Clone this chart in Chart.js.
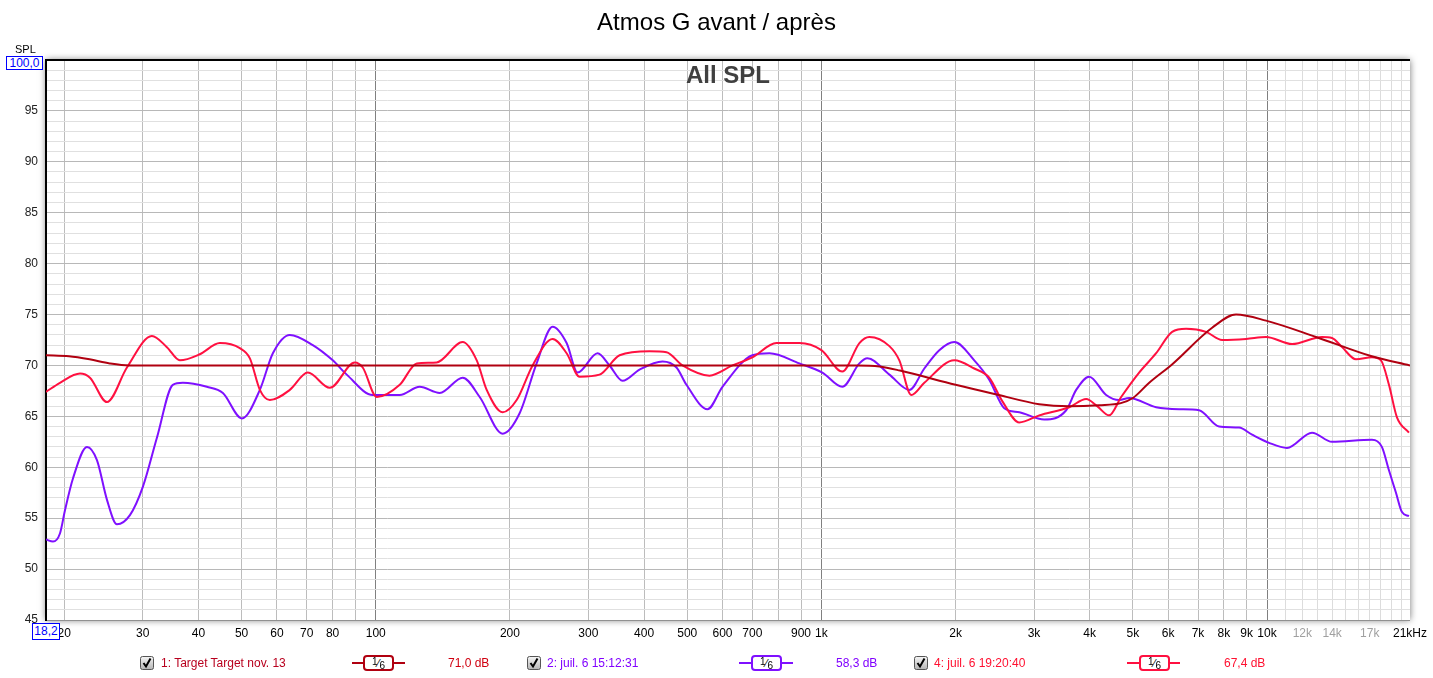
<!DOCTYPE html>
<html>
<head>
<meta charset="utf-8">
<script src="https://cdn.jsdelivr.net/npm/chart.js@4.4.1/dist/chart.umd.min.js"></script>
<style>
html,body{margin:0;padding:0;background:#fff;width:1433px;height:678px;overflow:hidden;font-family:"Liberation Sans",Arial,sans-serif;}
#wrap{position:relative;width:1433px;height:678px;}
#c{position:absolute;left:0;top:0;}
.abs{position:absolute;white-space:nowrap;}
.t12{font-size:12px;line-height:12px;}
.sym{position:absolute;height:16px;}
.sym .ln{position:absolute;left:0;right:0;top:7px;height:2px;}
.sym .bx{position:absolute;top:0;width:27px;height:12px;border:2px solid;border-radius:4px;background:#fff;font-size:11px;line-height:12px;text-align:center;color:#000;}
.frac .n{position:relative;top:-2px;font-size:10px;}
.frac .d{position:relative;top:2px;font-size:10px;}
</style>
</head>
<body>
<div id="wrap">
<canvas id="c" width="1433" height="678"></canvas>
<div class="abs" style="left:0;width:1433px;top:10px;text-align:center;font-size:24px;line-height:24px;color:#000;">Atmos G avant / après</div>
<div class="abs" style="left:0;width:1456px;top:63px;text-align:center;font-size:24px;line-height:24px;font-weight:bold;color:#404040;">All SPL</div>
<div class="abs" style="left:15px;top:44px;font-size:11px;line-height:11px;color:#000;">SPL</div>
<div class="abs t12" style="left:6px;top:56px;width:35px;height:12px;border:1px solid #0000ff;color:#0000ff;text-align:center;background:#fff;">100,0</div>
<div class="abs t12" style="left:32px;top:623px;width:26px;height:15px;line-height:15px;border:1px solid #0000ff;color:#0000ff;text-align:center;background:#fff;">18,2</div>

<!-- legend -->
<svg class="abs" style="left:140px;top:656px" width="14" height="14"><defs><linearGradient id="g1" x1="0" y1="0" x2="0" y2="1"><stop offset="0" stop-color="#f6f6f6"/><stop offset="1" stop-color="#b4b4b4"/></linearGradient></defs><rect x="0.5" y="0.5" width="13" height="13" rx="2" fill="url(#g1)" stroke="#555"/><path d="M3.5 7 L6 10.5 L10.5 2.5" stroke="#000" stroke-width="2" fill="none"/></svg>
<div class="abs t12" style="left:161px;top:657px;color:#b8001e;">1: Target Target nov. 13</div>
<div class="sym" style="left:352px;top:655px;width:53px;"><div class="ln" style="background:#b00010"></div><div class="bx" style="left:11px;border-color:#b00010"><span class="frac"><span class="n">1</span>⁄<span class="d">6</span></span></div></div>
<div class="abs t12" style="left:448px;top:657px;color:#d00010;">71,0 dB</div>

<svg class="abs" style="left:527px;top:656px" width="14" height="14"><defs><linearGradient id="g2" x1="0" y1="0" x2="0" y2="1"><stop offset="0" stop-color="#f6f6f6"/><stop offset="1" stop-color="#b4b4b4"/></linearGradient></defs><rect x="0.5" y="0.5" width="13" height="13" rx="2" fill="url(#g2)" stroke="#555"/><path d="M3.5 7 L6 10.5 L10.5 2.5" stroke="#000" stroke-width="2" fill="none"/></svg>
<div class="abs t12" style="left:547px;top:657px;color:#8000ff;">2: juil. 6 15:12:31</div>
<div class="sym" style="left:739px;top:655px;width:54px;"><div class="ln" style="background:#7f10ff"></div><div class="bx" style="left:12px;border-color:#7f10ff"><span class="frac"><span class="n">1</span>⁄<span class="d">6</span></span></div></div>
<div class="abs t12" style="left:836px;top:657px;color:#8000ff;">58,3 dB</div>

<svg class="abs" style="left:914px;top:656px" width="14" height="14"><defs><linearGradient id="g3" x1="0" y1="0" x2="0" y2="1"><stop offset="0" stop-color="#f6f6f6"/><stop offset="1" stop-color="#b4b4b4"/></linearGradient></defs><rect x="0.5" y="0.5" width="13" height="13" rx="2" fill="url(#g3)" stroke="#555"/><path d="M3.5 7 L6 10.5 L10.5 2.5" stroke="#000" stroke-width="2" fill="none"/></svg>
<div class="abs t12" style="left:934px;top:657px;color:#ff1030;">4: juil. 6 19:20:40</div>
<div class="sym" style="left:1127px;top:655px;width:53px;"><div class="ln" style="background:#ff1040"></div><div class="bx" style="left:12px;border-color:#ff1040"><span class="frac"><span class="n">1</span>⁄<span class="d">6</span></span></div></div>
<div class="abs t12" style="left:1224px;top:657px;color:#ff1030;">67,4 dB</div>
</div>

<script>
// ---- axis ranges ----
const xMin = 18.2;
const xMax = 20930;
const yMin = 45;
const yMax = 100;

// ---- tick definitions ----
const xTickValues = [20,30,40,50,60,70,80,90,100,200,300,400,500,600,700,800,900,1000,2000,3000,4000,5000,6000,7000,8000,9000,10000,11000,12000,13000,14000,15000,16000,17000,18000,19000,20000,20930];
const xTickLabels = ['20','30','40','50','60','70','80','','100','200','300','400','500','600','700','','900','1k','2k','3k','4k','5k','6k','7k','8k','9k','10k','','12k','','14k','','','17k','','','','21kHz'];
const xGreyLabels = ['12k','14k','17k'];
const yTickValues = [45,46,47,48,49,50,51,52,53,54,55,56,57,58,59,60,61,62,63,64,65,66,67,68,69,70,71,72,73,74,75,76,77,78,79,80,81,82,83,84,85,86,87,88,89,90,91,92,93,94,95,96,97,98,99,100];
const yLabelValues = [45,50,55,60,65,70,75,80,85,90,95];

// ---- series 1: Target ----
const targetFreq = [18.2, 20.5, 22.8, 25.3, 28, 100, 1000, 1200, 1350, 1500, 2000, 2500, 3080, 3600, 4200, 4700, 5000, 5440, 6120, 7530, 8520, 9950, 12880, 17180, 20930];
const targetSPL  = [71.0, 70.9, 70.6, 70.2, 70.0, 70.0, 70.0, 70.0, 69.9, 69.5, 68.1, 67.1, 66.2, 66.0, 66.1, 66.3, 66.8, 68.3, 70.1, 73.7, 75.0, 74.4, 72.8, 70.9, 70.0];

// ---- series 2: juil. 6 15:12:31 ----
const meas2Freq = [18.2, 18.87, 19.56, 20.08, 20.92, 22.49, 23.68, 24.94, 26.26, 28.08, 30.03, 32.28, 35.05, 36.92, 41.79, 45.39, 50.07, 54.95, 58.77, 64.15, 72.23, 80.09, 86.09, 98.46, 113.2, 125.5, 139.2, 156.7, 171.1, 192.7, 210.3, 229.6, 249.4, 268.1, 283.8, 314.6, 334.7, 357.9, 390.8, 440.1, 473.0, 498.0, 555.2, 599.8, 700.2, 764.7, 892.6, 1005, 1114, 1217, 1268, 1421, 1575, 1702, 1839, 1987, 2203, 2380, 2572, 2780, 3162, 3542, 3730, 3990, 4355, 4658, 4904, 5638, 6348, 7039, 7806, 8653, 9256, 10104, 11086, 12616, 13986, 17198, 18100, 18774, 19467, 20080, 20816];
const meas2SPL  = [52.9, 52.7, 53.5, 55.8, 58.9, 62.0, 60.7, 56.8, 54.4, 55.3, 58.1, 62.9, 68.1, 68.3, 67.9, 67.3, 64.8, 67.6, 71.2, 73.0, 72.0, 70.5, 69.1, 67.1, 67.1, 67.9, 67.3, 68.8, 66.9, 63.3, 65.3, 70.2, 73.8, 72.2, 69.3, 71.2, 70.0, 68.5, 69.6, 70.4, 69.8, 68.1, 65.7, 67.9, 71.0, 71.2, 70.2, 69.3, 67.9, 70.2, 70.7, 69.1, 67.6, 69.7, 71.5, 72.3, 70.5, 68.6, 65.8, 65.4, 64.7, 65.6, 67.6, 68.9, 67.1, 66.6, 66.8, 65.9, 65.7, 65.6, 64.0, 63.9, 63.2, 62.4, 61.9, 63.4, 62.5, 62.7, 62.0, 59.7, 57.5, 55.6, 55.2];

// ---- series 4: juil. 6 19:20:40 ----
const meas4Freq = [18.2, 19.56, 21.7, 22.84, 24.94, 27.65, 31.46, 33.99, 36.35, 40.3, 44.69, 49.56, 52.19, 54.95, 57.86, 64.15, 70.39, 78.86, 89.75, 93.5, 100.5, 113.2, 123.6, 137.0, 156.7, 168.5, 177.4, 192.7, 207.1, 224.9, 249.4, 268.1, 286.7, 317.8, 352.5, 411.5, 449.3, 488.0, 561.0, 631.6, 700.2, 792.9, 892.6, 1000, 1114, 1217, 1281, 1421, 1496, 1591, 1702, 1987, 2203, 2380, 2546, 2780, 3082, 3598, 3929, 4157, 4423, 4706, 5164, 5638, 6124, 6583, 7298, 7929, 8975, 9949, 11380, 13285, 13986, 14731, 15834, 17198, 18013, 18774, 19566, 20816];
const meas4SPL  = [67.4, 68.3, 69.2, 68.8, 66.4, 69.8, 72.9, 71.8, 70.5, 71.1, 72.2, 71.7, 70.7, 67.6, 66.6, 67.6, 69.3, 67.8, 70.3, 69.8, 66.9, 68.1, 70.2, 70.3, 72.3, 70.5, 67.6, 65.4, 66.6, 70.0, 72.6, 71.2, 68.9, 69.1, 71.0, 71.4, 71.3, 70.0, 69.0, 70.0, 70.8, 72.2, 72.2, 71.5, 69.4, 72.2, 72.8, 71.9, 70.5, 67.1, 68.3, 70.5, 69.7, 68.8, 66.5, 64.4, 65.1, 65.9, 66.7, 66.0, 65.1, 66.9, 69.3, 71.2, 73.3, 73.6, 73.3, 72.5, 72.6, 72.8, 72.1, 72.8, 72.7, 71.8, 70.6, 70.8, 70.5, 68.1, 64.9, 63.4];

const pts = (fs, vs) => fs.map((f, i) => ({x: f, y: vs[i]}));

const framePlugin = {
  id: 'frame',
  beforeDraw(chart) {
    const {ctx, chartArea: a} = chart;
    ctx.save();
    ctx.shadowColor = 'rgba(0,0,0,0.55)';
    ctx.shadowBlur = 7;
    ctx.fillStyle = '#ffffff';
    ctx.fillRect(a.left, a.top, a.right - a.left, a.bottom - a.top);
    ctx.restore();
  },
  beforeDatasetsDraw(chart) {
    const {ctx, chartArea: a} = chart;
    ctx.save();
    ctx.fillStyle = '#000';
    ctx.fillRect(a.left - 1, a.top - 1, a.right - a.left + 1, 2);
    ctx.restore();
  }
};

new Chart(document.getElementById('c'), {
  type: 'line',
  data: {
    datasets: [
      {label: '1: Target Target nov. 13', data: pts(targetFreq, targetSPL), borderColor: '#b00010', borderWidth: 2, pointRadius: 0, cubicInterpolationMode: 'monotone', fill: false, order: 0},
      {label: '4: juil. 6 19:20:40', data: pts(meas4Freq, meas4SPL), borderColor: '#ff1040', borderWidth: 2, pointRadius: 0, cubicInterpolationMode: 'monotone', fill: false, order: 1},
      {label: '2: juil. 6 15:12:31', data: pts(meas2Freq, meas2SPL), borderColor: '#7f10ff', borderWidth: 2, pointRadius: 0, cubicInterpolationMode: 'monotone', fill: false, order: 2}
    ]
  },
  options: {
    responsive: false,
    animation: false,
    devicePixelRatio: 1,
    layout: {padding: {left: 0, top: 60, right: 22, bottom: 38}, autoPadding: false},
    plugins: {legend: {display: false}, tooltip: {enabled: false}, title: {display: false}},
    scales: {
      x: {
        type: 'logarithmic',
        min: xMin, max: xMax,
        afterBuildTicks: s => { s.ticks = xTickValues.map(v => ({value: v})); },
        afterFit: s => { s.height = 20; },
        grid: {
          drawTicks: false,
          lineWidth: 1,
          color: ctx => {
            const v = ctx.tick ? ctx.tick.value : 0;
            if (v === 100 || v === 1000 || v === 10000) return '#808080';
            if (v === xMax) return 'rgba(0,0,0,0)';
            if (v > 10000) return '#dcdcdc';
            return '#bcbcbc';
          }
        },
        border: {display: true, color: '#909090', width: 1},
        ticks: {
          autoSkip: false, maxRotation: 0, minRotation: 0, padding: 6,
          font: {family: '"Liberation Sans", Arial, sans-serif', size: 12},
          color: ctx => (ctx.tick && xGreyLabels.includes(xTickLabels[xTickValues.indexOf(ctx.tick.value)])) ? '#a0a0a0' : '#000',
          callback: v => { const i = xTickValues.indexOf(v); return i >= 0 ? xTickLabels[i] : ''; }
        }
      },
      y: {
        type: 'linear',
        min: yMin, max: yMax,
        afterBuildTicks: s => { s.ticks = yTickValues.map(v => ({value: v})); },
        afterFit: s => { s.width = 46; },
        grid: {
          drawTicks: false,
          lineWidth: 1,
          color: ctx => {
            const v = ctx.tick ? ctx.tick.value : 0;
            return (v % 5 === 0) ? '#b8b8b8' : '#e0e0e0';
          }
        },
        border: {display: true, color: '#000', width: 2},
        ticks: {
          autoSkip: false, padding: 8,
          font: {family: '"Liberation Sans", Arial, sans-serif', size: 12},
          color: '#222',
          callback: v => yLabelValues.includes(v) ? String(v) : ''
        }
      }
    }
  },
  plugins: [framePlugin]
});
</script>
</body>
</html>
